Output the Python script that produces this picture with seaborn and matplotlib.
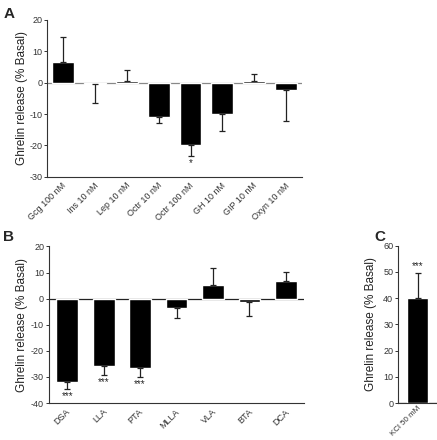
import numpy as np
import pandas as pd
import matplotlib
matplotlib.use("Agg")
import matplotlib.pyplot as plt
import matplotlib.transforms as mtransforms
import seaborn as sns

# Panel A: hormones
a_labels = ["Gcg 100 nM", "Ins 10 nM", "Lep 10 nM", "Octr 10 nM",
            "Octr 100 nM", "GH 10 nM", "GIP 10 nM", "Oxyn 10 nM"]
a_values = [6.5, -0.3, 0.4, -11.0, -20.0, -10.0, 0.5, -2.3]
a_errors = [8.0, 6.2, 3.5, 2.0, 3.2, 5.5, 2.3, 10.0]
a_stars = ["", "", "", "", "*", "", "", ""]

# Panel B: fatty acids
b_labels = ["DSA", "LLA", "PTA", "MLLA", "VLA", "BTA", "DCA"]
b_values = [-31.8, -25.7, -26.4, -3.7, 5.2, -1.3, 6.9]
b_errors = [2.9, 3.4, 3.5, 3.7, 6.5, 5.2, 3.4]
b_stars = ["***", "***", "***", "", "", "", ""]

# Panel C: KCl
c_labels = ["KCl 50 mM"]
c_values = [40.2]
c_errors = [9.5]
c_stars = ["***"]

YLABEL = "Ghrelin release (% Basal)"

sns.set_style("ticks")
plt.rcParams["font.family"] = ["Liberation Sans", "DejaVu Sans"]
plt.rcParams["axes.unicode_minus"] = False


def draw_panel(fig, ax, labels, values, errors, stars, width, ylim, yticks,
               zero_color, ylab_x, xlab_size=6.5, xlab_pad=3):
    df = pd.DataFrame({"cond": labels, "val": values})
    sns.barplot(data=df, x="cond", y="val", color="black", width=width,
                errorbar=None, ax=ax, saturation=1)
    x = np.arange(len(labels))
    vals = np.array(values)
    errs = np.array(errors)
    # one-sided error bars, pointing away from zero
    lower = np.where(vals < 0, errs, 0)
    upper = np.where(vals >= 0, errs, 0)
    ax.errorbar(x, vals, yerr=[lower, upper], fmt="none", ecolor="#222222",
                elinewidth=0.9, capsize=2.5, capthick=0.9)
    ax.axhline(0, color=zero_color, lw=0.9, zorder=0.5)
    span = ylim[1] - ylim[0]
    for xi, v, e, s in zip(x, vals, errs, stars):
        if not s:
            continue
        if v < 0:
            ax.text(xi, v - e - span * 0.015, s, ha="center", va="top", fontsize=7)
        else:
            ax.text(xi, v + e + span * 0.01, s, ha="center", va="bottom", fontsize=7)
    ax.set_xlim(-0.5, len(labels) - 0.5)
    ax.set_ylim(*ylim)
    ax.set_yticks(yticks)
    ax.set_xlabel("")
    ax.set_ylabel(YLABEL, fontsize=8.5, color="#222222")
    ax.yaxis.set_label_coords(ylab_x, 0.5)
    ax.tick_params(axis="y", labelsize=6.5, length=2.5, width=0.7, pad=1, colors="#333333")
    ax.tick_params(axis="x", labelsize=xlab_size, length=0, pad=xlab_pad, colors="#333333")
    offset = mtransforms.ScaledTranslation(5 / 100, 0, fig.dpi_scale_trans)
    for lab in ax.get_xticklabels():
        lab.set_rotation(45)
        lab.set_ha("right")
        lab.set_va("top")
        lab.set_transform(lab.get_transform() + offset)
    for sp in ["top", "right"]:
        ax.spines[sp].set_visible(False)
    for sp in ["left", "bottom"]:
        ax.spines[sp].set_linewidth(0.8)
        ax.spines[sp].set_color("#333333")


fig = plt.figure(figsize=(4.37, 4.40), dpi=100)
ax_a = fig.add_axes([0.108, 0.598, 0.583, 0.357])
ax_b = fig.add_axes([0.112, 0.084, 0.584, 0.356])
ax_c = fig.add_axes([0.911, 0.084, 0.089, 0.358])

draw_panel(fig, ax_a, a_labels, a_values, a_errors, a_stars, 0.69,
           (-30, 20), [-30, -20, -10, 0, 10, 20], "#888888", -0.076)
draw_panel(fig, ax_b, b_labels, b_values, b_errors, b_stars, 0.6,
           (-40, 20), [-40, -30, -20, -10, 0, 10, 20], "#222222", -0.084)
draw_panel(fig, ax_c, c_labels, c_values, c_errors, c_stars, 0.56,
           (0, 60), [0, 10, 20, 30, 40, 50, 60], "#222222", -0.53,
           xlab_size=5.8, xlab_pad=1)

fig.text(0.008, 0.985, "A", fontsize=11, fontweight="bold", va="top")
fig.text(0.008, 0.478, "B", fontsize=11, fontweight="bold", va="top")
fig.text(0.857, 0.478, "C", fontsize=11, fontweight="bold", va="top")

fig.savefig("out.png", dpi=100)
